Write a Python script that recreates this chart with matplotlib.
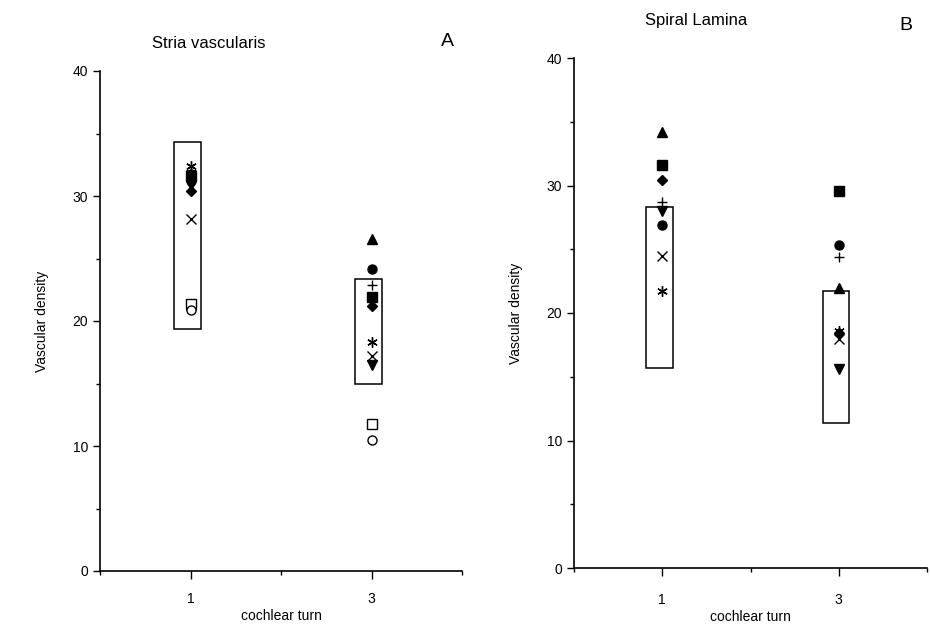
import matplotlib
matplotlib.use("Agg")
import matplotlib.pyplot as plt
from matplotlib.patches import Rectangle
from matplotlib.ticker import MultipleLocator, FixedLocator

plt.rcParams["font.family"] = ["Liberation Sans", "DejaVu Sans"]

# marker symbols per animal (same order in every list below)
ASTER = (6, 2, 0)
symbols_a = [ASTER, "+", "^", "s", "o", "v", "D", "x", "s_open", "o_open"]
turn1_a = [32.4, 32.1, 31.8, 31.6, 31.2, 30.9, 30.4, 28.2, 21.4, 20.9]
turn3_a = [18.3, 22.9, 26.6, 21.9, 24.2, 16.5, 21.2, 17.2, 11.8, 10.5]
box_a = [(19.4, 34.3), (15.0, 23.4)]   # (low, high) for turn 1 and turn 3

symbols_b = ["^", "s", "D", "+", "v", "o", "x", ASTER]
turn1_b = [34.2, 31.6, 30.4, 28.7, 28.0, 26.9, 24.5, 21.7]
turn3_b = [22.0, 29.6, 18.4, 24.4, 15.6, 25.3, 18.0, 18.6]
box_b = [(15.7, 28.3), (11.4, 21.7)]

turns = [1, 3]


def draw_panel(ax, symbols, t1, t3, boxes, title, letter, title_xy, letter_xy,
               xpad, xlabelpad):
    for x, (lo, hi) in zip(turns, boxes):
        ax.add_patch(Rectangle((x - 0.18, lo), 0.30, hi - lo, fill=False,
                               ec="black", lw=1.1, zorder=2))
    for sym, y1, y3 in zip(symbols, t1, t3):
        face = "black"
        m = sym
        if isinstance(sym, str) and sym.endswith("_open"):
            m = sym.split("_")[0]
            face = "white"
        size = 6.5
        if m == "D":
            size = 5.5
        if m in ("+", "x") or isinstance(m, tuple):
            size = 7.5
        ax.plot(turns, [y1, y3], ls="none", marker=m, ms=size, mfc=face,
                mec="black", mew=1.0, color="black", zorder=3)
    ax.set_xlim(0, 4)
    ax.set_ylim(0, 40)
    ax.xaxis.set_major_locator(FixedLocator(turns))
    ax.xaxis.set_minor_locator(FixedLocator([0, 2, 4]))
    ax.yaxis.set_major_locator(MultipleLocator(10))
    ax.yaxis.set_minor_locator(MultipleLocator(5))
    ax.tick_params(which="major", length=5, width=1.0, labelsize=10, direction="out")
    ax.tick_params(axis="x", which="major", length=6, pad=xpad)
    ax.tick_params(which="minor", length=3, width=1.0, direction="out")
    for s in ("top", "right"):
        ax.spines[s].set_visible(False)
    for s in ("left", "bottom"):
        ax.spines[s].set_linewidth(1.2)
    ax.set_xlabel("cochlear turn", fontsize=10, labelpad=xlabelpad)
    ax.set_ylabel("Vascular density", fontsize=10, labelpad=17)
    ax.figure.text(title_xy[0], title_xy[1], title, fontsize=12, ha="center", va="center")
    ax.figure.text(letter_xy[0], letter_xy[1], letter, fontsize=14, ha="center", va="center")


fig = plt.figure(figsize=(9.3, 6.29), dpi=100)
ax_a = fig.add_axes([100 / 930, 58 / 629, 362 / 930, 500 / 629])
ax_b = fig.add_axes([574 / 930, 61 / 629, 353 / 930, 510 / 629])

draw_panel(ax_a, symbols_a, turn1_a, turn3_a, box_a, "Stria vascularis", "A",
           (209 / 930, 1 - 44 / 629), (447 / 930, 1 - 42 / 629), 9, 2.5)
draw_panel(ax_b, symbols_b, turn1_b, turn3_b, box_b, "Spiral Lamina", "B",
           (696 / 930, 1 - 21 / 629), (906 / 930, 1 - 26 / 629), 12, 2)

fig.savefig("out.png", dpi=100)
